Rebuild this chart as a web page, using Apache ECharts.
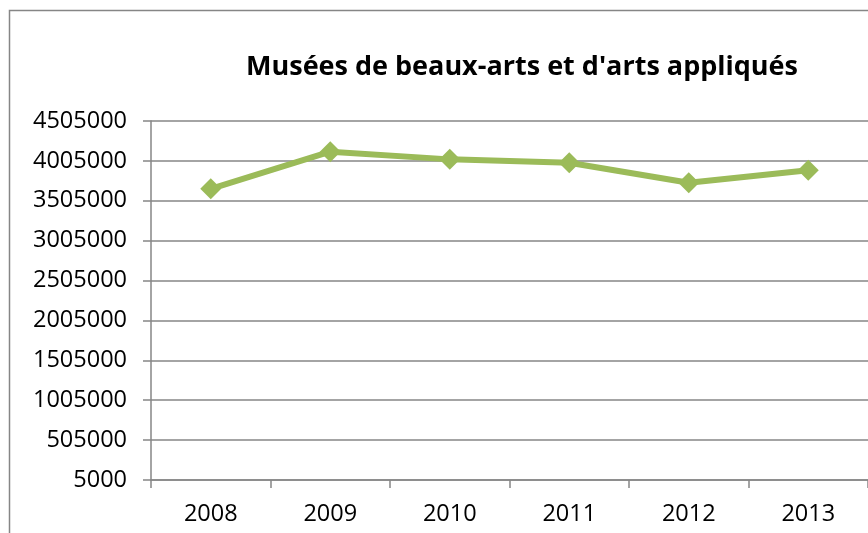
<!DOCTYPE html>
<html>
<head>
<meta charset="utf-8">
<script src="https://cdn.jsdelivr.net/npm/echarts@6/dist/echarts.min.js"></script>
<style>
html,body{margin:0;padding:0;background:#fff;}
#chart{width:868px;height:533px;}
</style>
</head>
<body>
<div id="chart"></div>
<script>
const title = "Musées de beaux-arts et d'arts appliqués";
const categories = ["2008", "2009", "2010", "2011", "2012", "2013"];
const visitors = [3655000, 4120000, 4024000, 3982000, 3731000, 3889000];
const axisBase = 5000;      // value-axis origin shown on the reference
const axisStep = 500000;
const axisSpan = 4500000;   // 5000 .. 4505000

const chart = echarts.init(document.getElementById('chart'), null, {renderer: 'canvas'});
const font = '"Open Sans", Lato, sans-serif';
chart.setOption({
  animation: false,
  backgroundColor: '#ffffff',
  graphic: [{
    type: 'rect',
    shape: {x: 9.5, y: 10.5, width: 900, height: 600},
    style: {fill: 'none', stroke: '#868686', lineWidth: 1.5},
    silent: true
  }],
  title: {
    text: title,
    left: 522,
    top: 54,
    padding: 0,
    textAlign: 'center',
    textStyle: {fontFamily: font, fontWeight: 'bold', fontSize: 27, lineHeight: 27, color: '#000'}
  },
  grid: {left: 151, right: -3, top: 121, bottom: 53, containLabel: false},
  xAxis: {
    type: 'category',
    data: categories,
    boundaryGap: true,
    axisLine: {lineStyle: {color: '#868686', width: 1.5}},
    axisTick: {show: true, length: 8, inside: false, lineStyle: {color: '#868686', width: 1.5}},
    axisLabel: {fontFamily: font, fontSize: 23.5, color: '#000', margin: 22}
  },
  yAxis: {
    type: 'value',
    min: 0,
    max: axisSpan,
    interval: axisStep,
    axisLine: {show: true, lineStyle: {color: '#868686', width: 1.5}},
    axisTick: {show: true, length: 8, lineStyle: {color: '#868686', width: 1.5}},
    splitLine: {show: true, lineStyle: {color: '#868686', width: 1.5}},
    axisLabel: {
      fontFamily: font, fontSize: 23.5, color: '#000', margin: 24,
      formatter: v => String(v + axisBase)
    }
  },
  series: [{
    type: 'line',
    data: visitors.map(v => v - axisBase),
    symbol: 'diamond',
    symbolSize: 21,
    lineStyle: {color: '#9BBB59', width: 6},
    itemStyle: {color: '#9BBB59'},
    z: 3
  }]
});
</script>
</body>
</html>
